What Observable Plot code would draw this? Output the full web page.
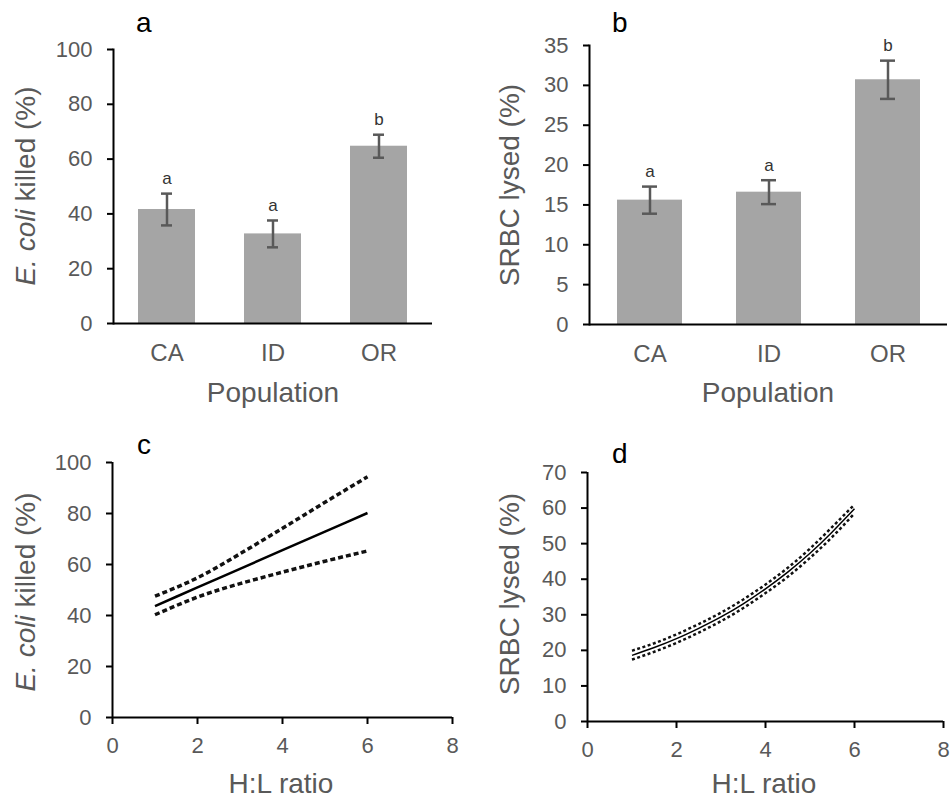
<!DOCTYPE html>
<html>
<head>
<meta charset="utf-8">
<script src="https://cdn.jsdelivr.net/npm/d3@7"></script>
<script src="https://cdn.jsdelivr.net/npm/@observablehq/plot@0.6"></script>
<style>
  html, body { margin: 0; padding: 0; background: #fff; }
  #root { position: relative; width: 950px; height: 799px; overflow: hidden; font-family: "Liberation Sans", Arial, sans-serif; }
  .panel { position: absolute; }
  #overlay { position: absolute; left: 0; top: 0; pointer-events: none; }
</style>
</head>
<body>
<div id="root">
  <div class="panel" id="pa" style="left:0;top:0"></div>
  <div class="panel" id="pb" style="left:475px;top:0"></div>
  <div class="panel" id="pc" style="left:0;top:412px"></div>
  <div class="panel" id="pd" style="left:475px;top:412px"></div>
  <svg id="overlay" width="950" height="799" font-family="Liberation Sans, Arial, sans-serif">
    <text x="136" y="32" font-size="28" fill="#000">a</text>
    <text x="612" y="32" font-size="28" fill="#000">b</text>
    <text x="137" y="454" font-size="28" fill="#000">c</text>
    <text x="612" y="463" font-size="28" fill="#000">d</text>
    <text x="273" y="402" font-size="28" fill="#595959" text-anchor="middle">Population</text>
    <text x="768" y="402" font-size="28" fill="#595959" text-anchor="middle">Population</text>
    <text x="281" y="793" font-size="28" fill="#595959" text-anchor="middle">H:L ratio</text>
    <text x="764" y="793" font-size="28" fill="#595959" text-anchor="middle">H:L ratio</text>
    <text transform="translate(35,186) rotate(-90)" font-size="28" fill="#595959" text-anchor="middle"><tspan font-style="italic">E. coli</tspan> killed (%)</text>
    <text transform="translate(519,185) rotate(-90)" font-size="28" fill="#595959" text-anchor="middle">SRBC lysed (%)</text>
    <text transform="translate(35,592) rotate(-90)" font-size="28" fill="#595959" text-anchor="middle"><tspan font-style="italic">E. coli</tspan> killed (%)</text>
    <text transform="translate(519,594) rotate(-90)" font-size="28" fill="#595959" text-anchor="middle">SRBC lysed (%)</text>
  </svg>
</div>
<script>
// ---- Data ----
const populations = ["CA", "ID", "OR"];

// Panel a: E. coli killed (%)
const ecoliKilled = [41.6, 32.7, 64.7];
const ecoliErr = [5.8, 4.9, 4.2];
const ecoliLetters = ["a", "a", "b"];
const ecoliTicks = [0, 20, 40, 60, 80, 100];

// Panel b: SRBC lysed (%)
const srbcLysed = [15.6, 16.6, 30.7];
const srbcErr = [1.7, 1.5, 2.4];
const srbcLetters = ["a", "a", "b"];
const srbcTicks = [0, 5, 10, 15, 20, 25, 30, 35];

// Panel c: E. coli killed vs H:L ratio
const hlRatioC = [1, 2, 3, 4, 5, 6];
const ecoliFit = [43.7, 51.0, 58.3, 65.6, 72.9, 80.2];
const ecoliUpper = [47.6, 54.8, 64.2, 74.2, 84.4, 94.4];
const ecoliLower = [40.3, 47.2, 52.5, 57.0, 61.3, 65.3];
const ecoliLineTicksY = [0, 20, 40, 60, 80, 100];

// Panel d: SRBC lysed vs H:L ratio
const hlRatioD = [1, 1.5, 2, 2.5, 3, 3.5, 4, 4.5, 5, 5.5, 6];
const srbcFit = [18.6, 20.8, 23.3, 26.2, 29.4, 33.1, 37.3, 42.0, 47.3, 53.3, 59.8];
const srbcUpper = [19.9, 22.0, 24.5, 27.4, 30.6, 34.3, 38.5, 43.2, 48.6, 54.7, 61.0];
const srbcLower = [17.4, 19.6, 22.1, 25.0, 28.2, 31.9, 36.1, 40.7, 46.0, 51.9, 58.5];
const srbcLineTicksY = [0, 10, 20, 30, 40, 50, 60, 70];
const hlTicks = [0, 2, 4, 6, 8];

// ---- Styles ----
const FONT = "Liberation Sans, Arial, sans-serif";
const TEXT_GRAY = "#595959";
const BAR_GRAY = "#a5a5a5";
const ERR_GRAY = "#595959";

function barPanel({values, errs, letters, ticks, yMax, margins, capInset, pad}) {
  const table = populations.map((p, i) => ({
    pop: p, value: values[i], lo: values[i] - errs[i], hi: values[i] + errs[i], letter: letters[i]
  }));
  return Plot.plot({
    width: 475, height: 412,
    marginLeft: margins[0], marginRight: margins[1], marginTop: margins[2], marginBottom: margins[3],
    style: {fontFamily: FONT, background: "transparent", overflow: "visible"},
    x: {domain: populations, paddingInner: pad, paddingOuter: pad / 2, label: null},
    y: {domain: [0, yMax], label: null},
    marks: [
      Plot.barY(table, {x: "pop", y: "value", fill: BAR_GRAY}),
      Plot.ruleX(table, {x: "pop", y1: "lo", y2: "hi", stroke: ERR_GRAY, strokeWidth: 2.5}),
      Plot.tickY(table, {x: "pop", y: "hi", stroke: ERR_GRAY, strokeWidth: 2.5, insetLeft: capInset, insetRight: capInset}),
      Plot.tickY(table, {x: "pop", y: "lo", stroke: ERR_GRAY, strokeWidth: 2.5, insetLeft: capInset, insetRight: capInset}),
      Plot.text(table, {x: "pop", y: "hi", text: "letter", dy: -15, fontSize: 17, fill: "#333"}),
      Plot.axisY({ticks, tickSize: 6, tickPadding: 15, fontSize: 22, fill: TEXT_GRAY, stroke: "#000", strokeWidth: 2}),
      Plot.axisX({tickSize: 0, tickPadding: 20, fontSize: 24, fill: TEXT_GRAY}),
      Plot.ruleY([0], {stroke: "#000", strokeWidth: 2}),
      Plot.frame({anchor: "left", stroke: "#000", strokeWidth: 2})
    ]
  });
}

function linePanel({xs, fit, upper, lower, yMax, yTicks, margins, fitWidth, dotWidth, dash, curve}) {
  const table = xs.map((x, i) => ({x, fit: fit[i], upper: upper[i], lower: lower[i]}));
  const dotted = {stroke: "#111", strokeWidth: dotWidth, strokeDasharray: dash, strokeLinecap: "butt", strokeLinejoin: "miter", curve};
  return Plot.plot({
    width: 475, height: 387,
    marginLeft: margins[0], marginRight: margins[1], marginTop: margins[2], marginBottom: margins[3],
    style: {fontFamily: FONT, background: "transparent", overflow: "visible"},
    x: {domain: [0, 8], label: null},
    y: {domain: [0, yMax], label: null},
    marks: [
      Plot.line(table, {x: "x", y: "upper", ...dotted}),
      Plot.line(table, {x: "x", y: "lower", ...dotted}),
      Plot.line(table, {x: "x", y: "fit", stroke: "#000", strokeWidth: fitWidth, strokeLinecap: "butt", curve}),
      Plot.axisY({ticks: yTicks, tickSize: 6, tickPadding: 15, fontSize: 22, fill: TEXT_GRAY, stroke: "#000", strokeWidth: 2}),
      Plot.axisX({ticks: hlTicks, tickSize: 7, tickPadding: 13, fontSize: 22, fill: TEXT_GRAY, stroke: "#000", strokeWidth: 2}),
      Plot.ruleY([0], {stroke: "#000", strokeWidth: 2}),
      Plot.ruleX([0], {stroke: "#000", strokeWidth: 2})
    ]
  });
}

document.getElementById("pa").appendChild(barPanel({
  values: ecoliKilled, errs: ecoliErr, letters: ecoliLetters, ticks: ecoliTicks, yMax: 100,
  margins: [113, 43, 49, 89], capInset: 23, pad: 0.46
}));
document.getElementById("pb").appendChild(barPanel({
  values: srbcLysed, errs: srbcErr, letters: srbcLetters, ticks: srbcTicks, yMax: 35,
  margins: [114, 3, 45, 88], capInset: 25, pad: 0.455
}));
document.getElementById("pc").appendChild(linePanel({
  xs: hlRatioC, fit: ecoliFit, upper: ecoliUpper, lower: ecoliLower, yMax: 100, yTicks: ecoliLineTicksY,
  margins: [112, 23, 50, 82], fitWidth: 2.5, dotWidth: 3.5, dash: "5,3", curve: "natural"
}));
document.getElementById("pd").appendChild(linePanel({
  xs: hlRatioD, fit: srbcFit, upper: srbcUpper, lower: srbcLower, yMax: 70, yTicks: srbcLineTicksY,
  margins: [112, 7, 60, 78], fitWidth: 1.5, dotWidth: 2.5, dash: "3,2.5", curve: "natural"
}));
</script>
</body>
</html>
